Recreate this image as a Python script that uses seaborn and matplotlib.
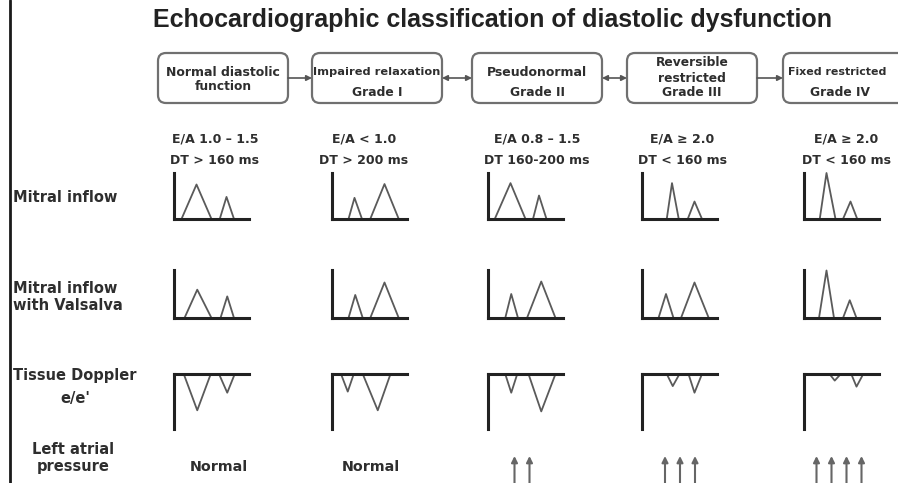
import matplotlib
matplotlib.use("Agg")
import matplotlib.pyplot as plt
import seaborn as sns
import pandas as pd
from matplotlib.patches import FancyBboxPatch

# --- content ------------------------------------------------------------
title = "Echocardiographic classification of diastolic dysfunction"
grade_boxes = [["Normal diastolic", "function"], ["Impaired relaxation", "Grade I"],
               ["Pseudonormal", "Grade II"], ["Reversible", "restricted", "Grade III"],
               ["Fixed restricted", "Grade IV"]]
box_links = ["-|>", "<|-|>", "<|-|>", "-|>"]
ea_ratio = ["E/A 1.0 \u2013 1.5", "E/A < 1.0", "E/A 0.8 \u2013 1.5", "E/A \u2265 2.0", "E/A \u2265 2.0"]
decel_time = ["DT > 160 ms", "DT > 200 ms", "DT 160-200 ms", "DT < 160 ms", "DT < 160 ms"]
row_labels = ["Mitral inflow", "Mitral inflow\nwith Valsalva", "Tissue Doppler\ne/e'",
              "Left atrial\npressure"]

# each wave: (onset, peak, end, height) as a fraction of its little panel
mitral_waves = [
    [(0.10, 0.30, 0.50, 0.75), (0.61, 0.70, 0.80, 0.48)],
    [(0.22, 0.30, 0.40, 0.46), (0.51, 0.70, 0.89, 0.76)],
    [(0.09, 0.30, 0.50, 0.78), (0.60, 0.68, 0.78, 0.51)],
    [(0.33, 0.40, 0.49, 0.78), (0.61, 0.70, 0.80, 0.38)],
    [(0.21, 0.30, 0.42, 1.00), (0.52, 0.62, 0.71, 0.38)],
]
valsalva_waves = [
    [(0.14, 0.31, 0.50, 0.59), (0.62, 0.71, 0.80, 0.45)],
    [(0.22, 0.31, 0.41, 0.48), (0.51, 0.70, 0.89, 0.74)],
    [(0.23, 0.31, 0.40, 0.50), (0.52, 0.71, 0.90, 0.76)],
    [(0.22, 0.32, 0.42, 0.50), (0.52, 0.70, 0.89, 0.74)],
    [(0.20, 0.30, 0.40, 0.99), (0.52, 0.61, 0.70, 0.37)],
]
tissue_waves = [
    [(0.13, 0.31, 0.49, 0.66), (0.60, 0.71, 0.81, 0.34)],
    [(0.12, 0.21, 0.29, 0.32), (0.41, 0.61, 0.78, 0.66)],
    [(0.23, 0.31, 0.39, 0.34), (0.54, 0.71, 0.90, 0.68)],
    [(0.33, 0.41, 0.50, 0.22), (0.62, 0.70, 0.80, 0.34)],
    [(0.34, 0.41, 0.49, 0.12), (0.63, 0.70, 0.79, 0.23)],
]
lap_text = ["Normal", "Normal", "", "", ""]
lap_arrows = [0, 0, 2, 3, 4]

# --- layout (pixels) -----------------------------------------------------
W, H = 898, 483
box_x = [158, 312, 472, 627, 783]
box_w = 130
text_cx = [215, 364, 537, 682, 846]
panel_x = [174, 332, 488, 642, 804]
panel_w = 75
arrow_cx = [0, 0, 522, 680, 839]

sns.set_style("white")
plt.rcParams["font.family"] = ["DejaVu Sans"]
ink = "#2e2e2e"

fig = plt.figure(figsize=(W / 100, H / 100), dpi=100)
ax = fig.add_axes([0, 0, 1, 1])
ax.set_xlim(0, W)
ax.set_ylim(H, 0)
ax.axis("off")

ax.plot([10, 10], [0, H], color="#1a1a1a", lw=2)
ax.text(153, 20, title, fontsize=18, fontweight="bold", family="Liberation Sans",
        color="#222222", va="center", ha="left")

# line heights inside the boxes, by number of lines
line_y = {2: [72, 92], 3: [63, 78, 93]}
first_fs = [9, 8.2, 9, 8.8, 7.9]
for i, (x, lines) in enumerate(zip(box_x, grade_boxes)):
    ax.add_patch(FancyBboxPatch((x, 53), box_w, 50, boxstyle="round,pad=0,rounding_size=8",
                                fc="white", ec="#707070", lw=1.6))
    ys = line_y[len(lines)] if i != 0 else [72, 87]
    for j, (txt, y) in enumerate(zip(lines, ys)):
        fs = first_fs[i] if j == 0 else 8.8
        if i == 4 and j == 0:
            ax.text(788, y, txt, fontsize=fs, fontweight="bold", color=ink,
                    ha="left", va="center")
        else:
            cx = x + box_w / 2 if i != 4 else 840
            ax.text(cx, y, txt, fontsize=fs, fontweight="bold", color=ink,
                    ha="center", va="center")

for i, style in enumerate(box_links):
    x0 = box_x[i] + box_w
    x1 = box_x[i + 1]
    ax.annotate("", xy=(x1, 78), xytext=(x0, 78),
                arrowprops=dict(arrowstyle=style, color="#555555", lw=1.2,
                                mutation_scale=8, shrinkA=0, shrinkB=0))

for cx, ea, dt in zip(text_cx, ea_ratio, decel_time):
    ax.text(cx, 139, ea, fontsize=9, fontweight="bold", color=ink, ha="center", va="center")
    ax.text(cx, 161, dt, fontsize=9, fontweight="bold", color=ink, ha="center", va="center")

ax.text(13, 197, row_labels[0], fontsize=10.5, fontweight="bold", color=ink, va="center")
ax.text(13, 297, row_labels[1], fontsize=10.5, fontweight="bold", color=ink, va="center",
        linespacing=1.2)
ax.text(75, 387, row_labels[2], fontsize=10.5, fontweight="bold", color=ink, va="center",
        ha="center", linespacing=1.7)
ax.text(73, 458, row_labels[3], fontsize=10.5, fontweight="bold", color=ink, va="center",
        ha="center", linespacing=1.2)


def wave_panel(x0, top, bottom, waves, hanging=False):
    pax = fig.add_axes([x0 / W, 1 - bottom / H, panel_w / W, (bottom - top) / H])
    rows = []
    for k, (a, p, b, h) in enumerate(waves):
        rows += [(k, a, 0.0), (k, p, h), (k, b, 0.0)]
    df = pd.DataFrame(rows, columns=["wave", "t", "v"])
    sns.lineplot(data=df, x="t", y="v", units="wave", estimator=None, sort=False,
                 color="#5a5a5a", lw=1.3, ax=pax, legend=False)
    pax.set_xlim(0, 1)
    pax.set_ylim(0, 1)
    if hanging:
        pax.invert_yaxis()
    for line in pax.lines:
        line.set_clip_on(False)
    pax.set_facecolor("none")
    pax.set_xticks([])
    pax.set_yticks([])
    pax.set_xlabel("")
    pax.set_ylabel("")
    for side, spine in pax.spines.items():
        keep = side == "left" or side == ("top" if hanging else "bottom")
        spine.set_visible(keep)
        spine.set_color("#222222")
        spine.set_linewidth(2.2)


for i in range(5):
    wave_panel(panel_x[i], 173, 219, mitral_waves[i])
    wave_panel(panel_x[i], 270, 318, valsalva_waves[i])
    wave_panel(panel_x[i], 374, 429, tissue_waves[i], hanging=True)

lap_x = [219, 371, 0, 0, 0]
for i in range(5):
    if lap_text[i]:
        ax.text(lap_x[i], 467, lap_text[i], fontsize=10.3, fontweight="bold", color=ink,
                ha="center", va="center")
    n = lap_arrows[i]
    for k in range(n):
        x = arrow_cx[i] + (k - (n - 1) / 2) * 15
        ax.annotate("", xy=(x, 456), xytext=(x, H + 4),
                    arrowprops=dict(arrowstyle="-|>", color="#666666", lw=1.5,
                                    mutation_scale=9, shrinkA=0, shrinkB=0))

fig.savefig("out.png", dpi=100)
